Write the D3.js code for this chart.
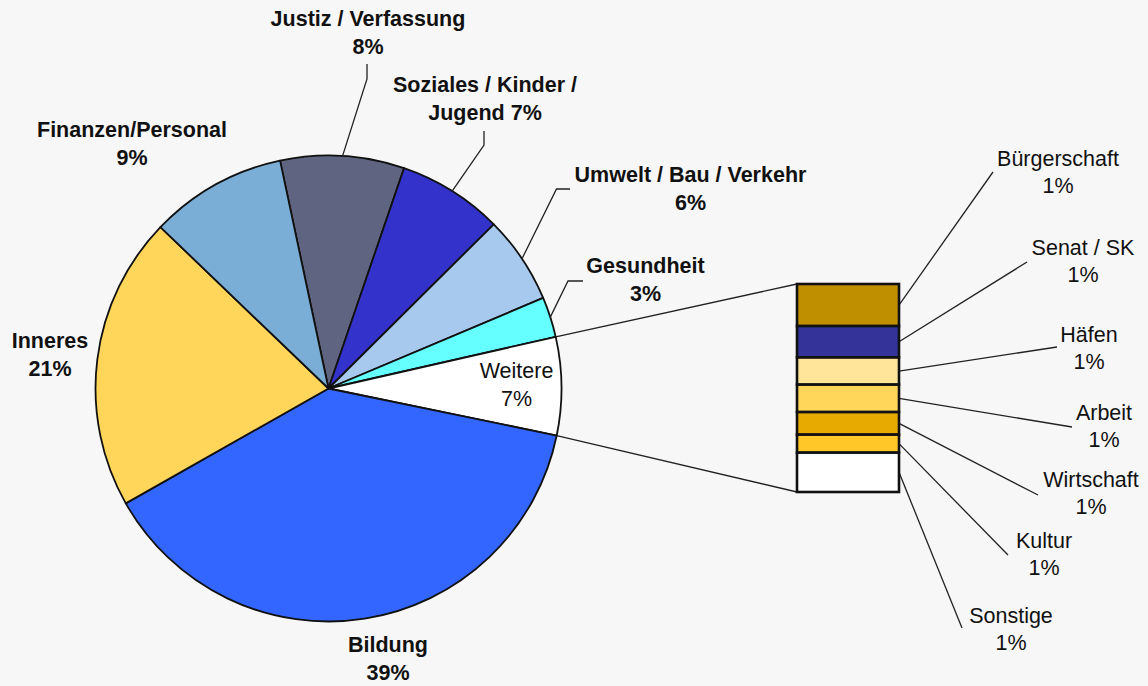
<!DOCTYPE html>
<html>
<head>
<meta charset="utf-8">
<script src="https://cdn.jsdelivr.net/npm/d3@7"></script>
<style>
  body { margin: 0; background: #f7f7f7; }
  svg text { font-family: "Liberation Sans", Arial, sans-serif; font-size: 21.5px; fill: #111; }
</style>
</head>
<body>
<div id="chart"></div>
<script>
// main pie, clockwise starting with Justiz
const categories = ["Justiz / Verfassung", "Soziales / Kinder / Jugend", "Umwelt / Bau / Verkehr",
    "Gesundheit", "Weitere", "Bildung", "Inneres", "Finanzen/Personal"];
const values = [8.6, 7.3, 6.1, 2.8, 6.8, 38.6, 20.4, 9.5];
const pctLabels = ["8%", "7%", "6%", "3%", "7%", "39%", "21%", "9%"];
const colors = ["#5f6580", "#3333cc", "#a8c9ee", "#66ffff", "#ffffff", "#3366ff", "#ffd55a", "#7aaed6"];

// breakdown of "Weitere"
const subCategories = ["Bürgerschaft", "Senat / SK", "Häfen", "Arbeit", "Wirtschaft", "Kultur", "Sonstige"];
const subValues = [1.38, 1.03, 0.89, 0.90, 0.74, 0.59, 1.29];
const subLabels = ["1%", "1%", "1%", "1%", "1%", "1%", "1%"];
const subColors = ["#bf8f00", "#333399", "#ffe599", "#ffd55a", "#e6aa00", "#ffc828", "#ffffff"];

const width = 1148, height = 686;
const cx = 328.5, cy = 388.5, radius = 233;
const lineH = 28;

// label placement (centre x, baseline of first line, leader elbow points)
const mainLayout = [
    {x: 368, y: 26, leader: [[367, 64], [367, 79]]},
    {x: 485, y: 92, leader: [[484, 131], [484, 145]], lines: ["Soziales / Kinder /", "Jugend"], inline: true},
    {x: 690.5, y: 182, leader: [[570, 189], [556.5, 189]]},
    {x: 645.5, y: 273, leader: [[583, 281], [568, 281]]},
    {x: 516.5, y: 378, plain: true},
    {x: 388, y: 652},
    {x: 50, y: 348},
    {x: 132, y: 137}
];
const subLayout = [
    {x: 1058, y: 166, start: [993, 172]},
    {x: 1083, y: 255, start: [1027, 262]},
    {x: 1089, y: 342, start: [1057, 347]},
    {x: 1104, y: 420, start: [1072, 427]},
    {x: 1091, y: 487, start: [1038, 495]},
    {x: 1044, y: 548, start: [1008, 555]},
    {x: 1011, y: 623, start: [962, 628]}
];

const svg = d3.select("#chart").append("svg")
    .attr("width", width)
    .attr("height", height);

svg.append("rect").attr("width", width).attr("height", height).attr("fill", "#f7f7f7");

const startDeg = -12;
const pie = d3.pie().sort(null).value(d => d)
    .startAngle(startDeg * Math.PI / 180)
    .endAngle((startDeg + 360) * Math.PI / 180);
const arcs = pie(values);
const arc = d3.arc().innerRadius(0).outerRadius(radius);

const onCircle = a => [cx + radius * Math.sin(a), cy - radius * Math.cos(a)];

const g = svg.append("g").attr("transform", "translate(" + cx + "," + cy + ")");
g.selectAll("path.slice")
    .data(arcs)
    .enter().append("path")
    .attr("class", "slice")
    .attr("d", arc)
    .attr("fill", (d, i) => colors[i])
    .attr("stroke", "#111")
    .attr("stroke-width", 1.8)
    .attr("stroke-linejoin", "round");

// stacked box for "Weitere"
const box = {x: 797, w: 102, top: 284, bottom: 492};
const yScale = d3.scaleLinear().domain([0, d3.sum(subValues)]).range([box.top, box.bottom]);
const cum = d3.cumsum([0].concat(subValues));
const subs = subValues.map((v, i) => ({y0: cum[i], y1: cum[i + 1]}));

// connectors pie -> box
const weitere = arcs[4];
const line = d3.line();
svg.append("path")
    .attr("d", line([onCircle(weitere.startAngle), [box.x, yScale(0)]]))
    .attr("fill", "none").attr("stroke", "#222").attr("stroke-width", 1.3);
svg.append("path")
    .attr("d", line([onCircle(weitere.endAngle), [box.x, yScale(d3.sum(subValues))]]))
    .attr("fill", "none").attr("stroke", "#222").attr("stroke-width", 1.3);

// sub leaders
svg.selectAll("path.subleader")
    .data(subs)
    .enter().append("path")
    .attr("class", "subleader")
    .attr("d", (d, i) => line([subLayout[i].start, [box.x + box.w, yScale((d.y0 + d.y1) / 2)]]))
    .attr("fill", "none").attr("stroke", "#222").attr("stroke-width", 1.3);

svg.selectAll("rect.sub")
    .data(subs)
    .enter().append("rect")
    .attr("class", "sub")
    .attr("x", box.x)
    .attr("y", d => yScale(d.y0))
    .attr("width", box.w)
    .attr("height", d => yScale(d.y1) - yScale(d.y0))
    .attr("fill", (d, i) => subColors[i])
    .attr("stroke", "#111")
    .attr("stroke-width", 2.6);

// main leaders
svg.selectAll("path.leader")
    .data(arcs.filter((d, i) => mainLayout[i].leader))
    .enter().append("path")
    .attr("class", "leader")
    .attr("d", d => {
        const l = mainLayout[d.index];
        return line(l.leader.concat([onCircle((d.startAngle + d.endAngle) / 2)]));
    })
    .attr("fill", "none").attr("stroke", "#222").attr("stroke-width", 1.3);

// main labels
arcs.forEach((d, i) => {
    const l = mainLayout[i];
    let lines;
    if (l.inline) {
        lines = l.lines.slice(0, -1).concat([l.lines[l.lines.length - 1] + " " + pctLabels[i]]);
    } else {
        lines = [categories[i], pctLabels[i]];
    }
    const t = svg.append("text")
        .attr("text-anchor", "middle")
        .attr("font-weight", l.plain ? "normal" : "bold");
    lines.forEach((s, k) => {
        t.append("tspan").attr("x", l.x).attr("y", l.y + k * lineH).text(s);
    });
});

// sub labels
subCategories.forEach((c, i) => {
    const l = subLayout[i];
    const t = svg.append("text").attr("text-anchor", "middle");
    t.append("tspan").attr("x", l.x).attr("y", l.y).text(c);
    t.append("tspan").attr("x", l.x).attr("y", l.y + 27).text(subLabels[i]);
});
</script>
</body>
</html>
